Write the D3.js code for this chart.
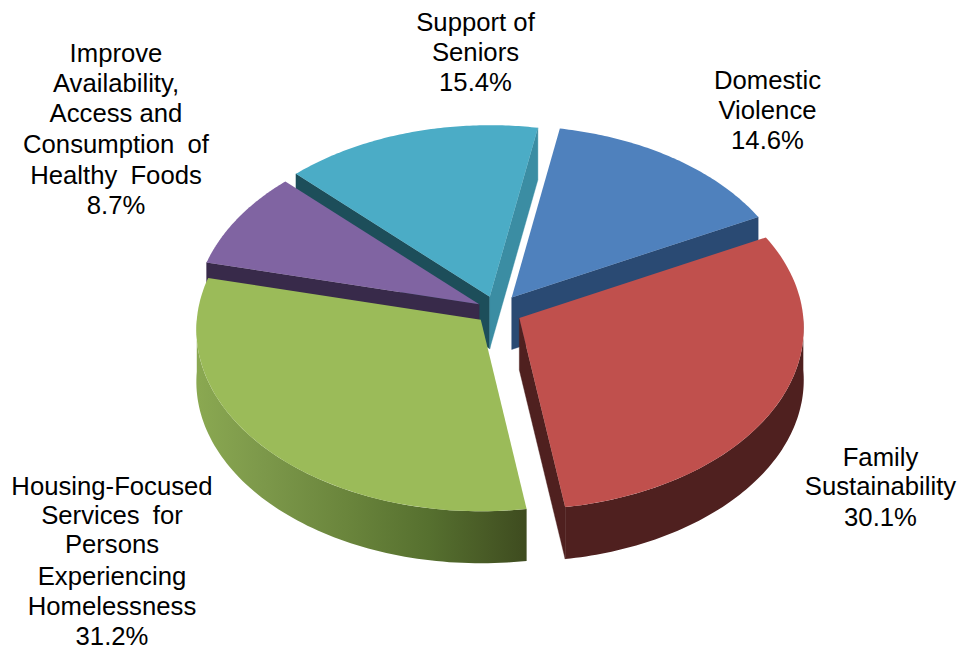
<!DOCTYPE html>
<html>
<head>
<meta charset="utf-8">
<script src="https://cdn.jsdelivr.net/npm/d3@7"></script>
<style>
  html, body { margin: 0; padding: 0; background: #fff; }
  svg { display: block; }
  text { font-family: "Liberation Sans", Arial, sans-serif; font-size: 25.7px; fill: #000; }
</style>
</head>
<body>
<svg id="chart" width="962" height="649"></svg>
<script>
// Funding shares, clockwise from the first slice
const categories = ["Domestic Violence", "Family Sustainability",
  "Housing-Focused Services for Persons Experiencing Homelessness",
  "Improve Availability, Access and Consumption of Healthy Foods", "Support of Seniors"];
const shares = [14.6, 30.1, 31.2, 8.7, 15.4];
const topColors = ["#4f81bd", "#c0504d", "#9bbb59", "#8064a2", "#4bacc6"];
const sideColors = ["#2a4a73", "#4f201f", "#3f4c20", "#382a4a", "#1d4e5a"];
// Cut face on the clockwise edge of each slice
const endCutColors = ["#2a4a73", "#4f201f", "#3f4c20", "#382a4a", "#3b8da3"];

// How far each slice is pulled away from the pie's centre
const explode = [0.09, 0.09, 0.075, 0.07, 0.08];

// Wrapped label text
const labelLines = [
  ["Domestic", "Violence", "14.6%"],
  ["Family", "Sustainability", "30.1%"],
  ["Housing-Focused", "Services for", "Persons", "Experiencing", "Homelessness", "31.2%"],
  ["Improve", "Availability,", "Access and", "Consumption of", "Healthy Foods", "8.7%"],
  ["Support of", "Seniors", "15.4%"]
];
const labelCenterX = [767.5, 880.5, 112, 116, 475.5];
const labelBaselines = [
  [89, 119, 149],
  [466, 495, 526],
  [494.5, 524, 553, 585, 615, 645],
  [62, 92, 122, 153, 184, 214],
  [31, 61, 91]
];
// Lines set with a wider gap between words
const wideGapLines = ["Services for", "Consumption of", "Healthy Foods"];

// Pie projection: a tilted disc with a slight perspective
const center = { x: 496.5, y: 310.5 };
const radiusX = 284, radiusY = 181, perspective = 0.055, thickness = 52;
const firstSliceAngle = 10.3 * Math.PI / 180;

const unit = d3.scaleLinear().domain([0, 1]);
const xScale = unit.copy().range([0, radiusX]);
const yScale = unit.copy().range([0, radiusY]);

function project(u, v, lift) {
  const s = 1 / (1 - perspective * v);
  return [center.x + xScale(u) * s, center.y + yScale(v) * s + (lift || 0)];
}

const pieLayout = d3.pie().sort(null).value(d => d)
  .startAngle(firstSliceAngle).endAngle(firstSliceAngle + 2 * Math.PI);
const arcs = pieLayout(shares);

const line = d3.line();
const svg = d3.select("#chart");
const defs = svg.append("defs");

// Shaded outer wall of the front slice that carries a highlight
const wallGradient = defs.append("linearGradient").attr("id", "greenWall")
  .attr("gradientUnits", "userSpaceOnUse")
  .attr("x1", 198).attr("x2", 528).attr("y1", 0).attr("y2", 0);
[[0, "#8aa851"], [0.2, "#7c984a"], [0.45, "#6a853c"], [0.7, "#56702f"], [1, "#3e4b1f"]]
  .forEach(([o, c]) => wallGradient.append("stop").attr("offset", o).attr("stop-color", c));

function rimPoint(a, e, angle, lift) {
  const apexU = e * Math.sin(a), apexV = -e * Math.cos(a);
  const u = Math.sin(angle), v = -Math.cos(angle);
  const apex = project(apexU, apexV, 0);
  const edge = project(u, v, 0);
  return [apex[0] + edge[0] - center.x, apex[1] + edge[1] - center.y + (lift || 0)];
}

function apexPoint(a, e, lift) {
  const p = project(e * Math.sin(a), -e * Math.cos(a), 0);
  return [p[0], p[1] + (lift || 0)];
}

function rimAngles(start, end) {
  return d3.range(0, 81).map(i => start + (end - start) * i / 80);
}

// Back slices are painted first so the nearer ones overlap them
const paintOrder = [0, 4, 3, 2, 1];

paintOrder.forEach(i => {
  const d = arcs[i];
  const mid = (d.startAngle + d.endAngle) / 2;
  const e = explode[i];
  const g = svg.append("g").attr("class", "slice").attr("data-name", categories[i]);
  const apex = apexPoint(mid, e);
  const apexLow = [apex[0], apex[1] + thickness];
  const inner = rimPoint(mid, e, mid);

  // Radial cut faces, shown only when the slice's top lies above the cut
  [d.startAngle, d.endAngle].forEach((cut, k) => {
    const rim = rimPoint(mid, e, cut);
    const slope = (rim[1] - apex[1]) / (rim[0] - apex[0]);
    const lineY = apex[1] + slope * (inner[0] - apex[0]);
    if (lineY > inner[1]) {
      const faceColor = k === 1 ? endCutColors[i] : sideColors[i];
      g.append("path")
        .attr("d", line([apex, rim, [rim[0], rim[1] + thickness], apexLow]) + "Z")
        .attr("fill", faceColor)
        .attr("stroke", faceColor)
        .attr("stroke-width", 0.4);
    }
  });

  // Outer wall over the part of the rim facing the viewer
  const wallStart = Math.max(d.startAngle, Math.PI / 2);
  const wallEnd = Math.min(d.endAngle, 3 * Math.PI / 2);
  if (wallEnd > wallStart) {
    const angles = rimAngles(wallStart, wallEnd);
    const upper = angles.map(t => rimPoint(mid, e, t));
    const lower = angles.map(t => rimPoint(mid, e, t, thickness)).reverse();
    g.append("path")
      .attr("d", line(upper.concat(lower)) + "Z")
      .attr("fill", i === 2 ? "url(#greenWall)" : sideColors[i]);
  }

  // Top face
  const rimTop = rimAngles(d.startAngle, d.endAngle).map(t => rimPoint(mid, e, t));
  g.append("path")
    .attr("d", line([apex].concat(rimTop)) + "Z")
    .attr("fill", topColors[i]);
});

// Category labels with their percentages
labelLines.forEach((lines, i) => {
  lines.forEach((t, j) => {
    svg.append("text")
      .attr("x", labelCenterX[i])
      .attr("y", labelBaselines[i][j])
      .attr("text-anchor", "middle")
      .style("word-spacing", wideGapLines.includes(t) ? "6px" : null)
      .text(t);
  });
});
</script>
</body>
</html>
